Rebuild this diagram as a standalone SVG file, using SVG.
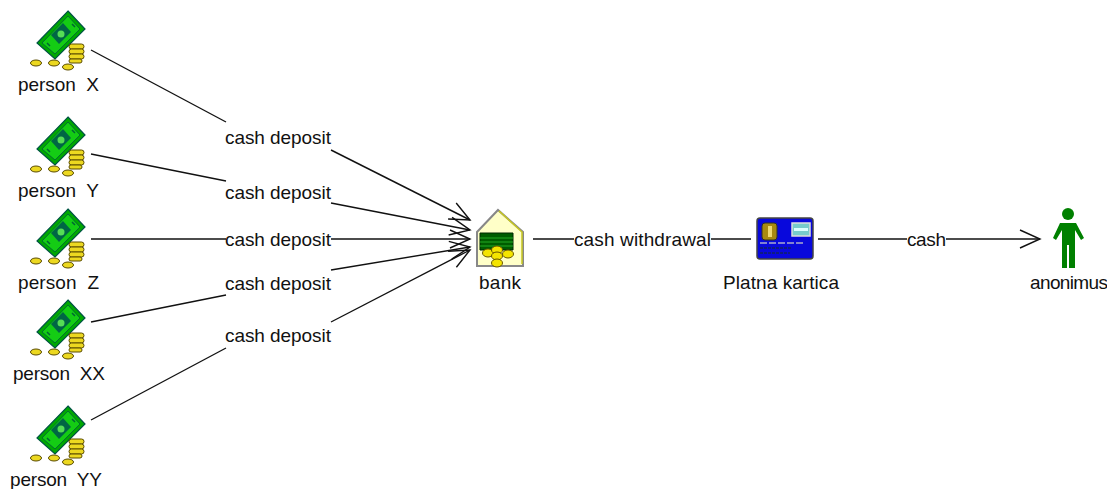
<svg xmlns="http://www.w3.org/2000/svg" width="1107" height="489" viewBox="0 0 1107 489">
<style>
text{font-family:"Liberation Sans",Arial,sans-serif;font-size:19px;fill:#111;text-anchor:middle;white-space:pre}
.c{fill:none;stroke:#111;stroke-width:1.4}
.h{fill:none;stroke:#111;stroke-width:1.4}
</style>
<defs>
<marker id="a" markerUnits="userSpaceOnUse" markerWidth="30" markerHeight="26" refX="27" refY="13" orient="auto"><path class="h" d="M7 4L27 13L7 22"/></marker>
<g id="money">
<path d="M68 11L85 29L55 59L37 43Z" fill="#00a800" stroke="#054" stroke-width="1.2"/>
<path d="M68 16L80 29L55 54L42 43Z" fill="#14cc14" stroke="#063" stroke-width=".9"/>
<path d="M63 23L71 32L59 44L51 35Z" fill="#064" />
<circle cx="61" cy="34" r="3.5" fill="#5d5"/>
<path d="M72 24l3 3M47 43l3 3" stroke="#063" stroke-width="1.5"/>
<g fill="#ecd820" stroke="#5a4c00" stroke-width="1">
<ellipse cx="36" cy="63" rx="5.5" ry="3"/><ellipse cx="54" cy="63" rx="5.5" ry="3"/><ellipse cx="68" cy="67" rx="5.5" ry="3"/>
<rect x="69" y="44" width="15" height="5" rx="2.5"/><rect x="69" y="49" width="15" height="5" rx="2.5"/><rect x="69" y="54" width="15" height="5" rx="2.5"/><rect x="69" y="59" width="13" height="4" rx="2"/>
</g>
</g>
</defs>
<g id="connectors">
<path class="c" d="M91 50L226 122"/><path class="c" marker-end="url(#a)" d="M331 150L470 220"/>
<path class="c" d="M91 154L226 181"/><path class="c" marker-end="url(#a)" d="M331 203L470 230"/>
<path class="c" d="M91 239L226 239"/><path class="c" marker-end="url(#a)" d="M331 239L470 239"/>
<path class="c" d="M91 322L226 295"/><path class="c" marker-end="url(#a)" d="M331 270L470 247"/>
<path class="c" d="M91 420L226 348"/><path class="c" marker-end="url(#a)" d="M331 322L470 250"/>
<path class="c" d="M533 239H574M711 239H751"/>
<path class="c" d="M818 239H907"/><path class="c" marker-end="url(#a)" d="M946 239H1040"/>
<text x="278" y="144" textLength="106">cash deposit</text>
<text x="278" y="199" textLength="106">cash deposit</text>
<text x="278" y="246" textLength="106">cash deposit</text>
<text x="278" y="290" textLength="106">cash deposit</text>
<text x="278" y="342" textLength="106">cash deposit</text>
<text x="642.500" y="246" textLength="137">cash withdrawal</text>
<text x="926.500" y="246" textLength="39">cash</text>
</g>
<g id="person-x"><use href="#money"/><text x="58.500" y="91" textLength="81">person  X</text></g>
<g id="person-y"><use href="#money" y="106"/><text x="58.500" y="197" textLength="81">person  Y</text></g>
<g id="person-z"><use href="#money" y="198"/><text x="58.500" y="289" textLength="81">person  Z</text></g>
<g id="person-xx"><use href="#money" y="289"/><text x="59" y="380" textLength="92">person  XX</text></g>
<g id="person-yy"><use href="#money" y="395"/><text x="56" y="486" textLength="92">person  YY</text></g>
<g id="bank">
<path d="M477 232L498 210L523 232V266H477Z" fill="#ffffc8" stroke="#888" stroke-width="2"/>
<path d="M499 211L522 232V264" fill="none" stroke="#c8c820" stroke-width="1.5"/>
<path d="M480 233H513V250H480Z" fill="#005c00" stroke="#002800"/>
<path d="M480 238H513M480 242H513M480 246H513" stroke="#2a2" stroke-width="1"/>
<g fill="#f4e400" stroke="#665500" stroke-width="1"><ellipse cx="488" cy="253" rx="5.500" ry="4"/><ellipse cx="497" cy="250" rx="5.500" ry="4"/><ellipse cx="508" cy="254" rx="5.500" ry="4"/><ellipse cx="497" cy="256" rx="5.500" ry="4"/><ellipse cx="497" cy="263" rx="5.500" ry="4"/></g>
<text x="500" y="289" textLength="42">bank</text>
</g>
<g id="platna-kartica">
<rect x="757" y="218" width="56" height="41" rx="3" fill="#0808dc" stroke="#444" stroke-width="1.5"/>
<rect x="762" y="223" width="15" height="17" rx="3" fill="#a88a10" stroke="#332"/>
<rect x="768" y="226" width="4" height="11" fill="#f0d870"/>
<rect x="792" y="223" width="18" height="13" fill="#7cc" stroke="#ddd" stroke-width="1.5"/>
<rect x="794" y="228" width="14" height="3" fill="#dff"/>
<path d="M760 243H805" stroke="#aac" stroke-width="1.500" stroke-dasharray="7 2"/>
<path d="M760 248H792M760 253H790" stroke="#112266" stroke-width="1.500" stroke-dasharray="3 1"/>
<text x="781" y="289" textLength="116">Platna kartica</text>
</g>
<g id="anonimus">
<circle cx="1068" cy="214" r="6" fill="#008000"/>
<path d="M1060 223H1076L1084 238L1081 240L1075 230V268H1069V245H1067V268H1062V230L1056 240L1053 238Z" fill="#008000"/>
<text x="1069" y="289" textLength="78">anonimus</text>
</g>
</svg>
